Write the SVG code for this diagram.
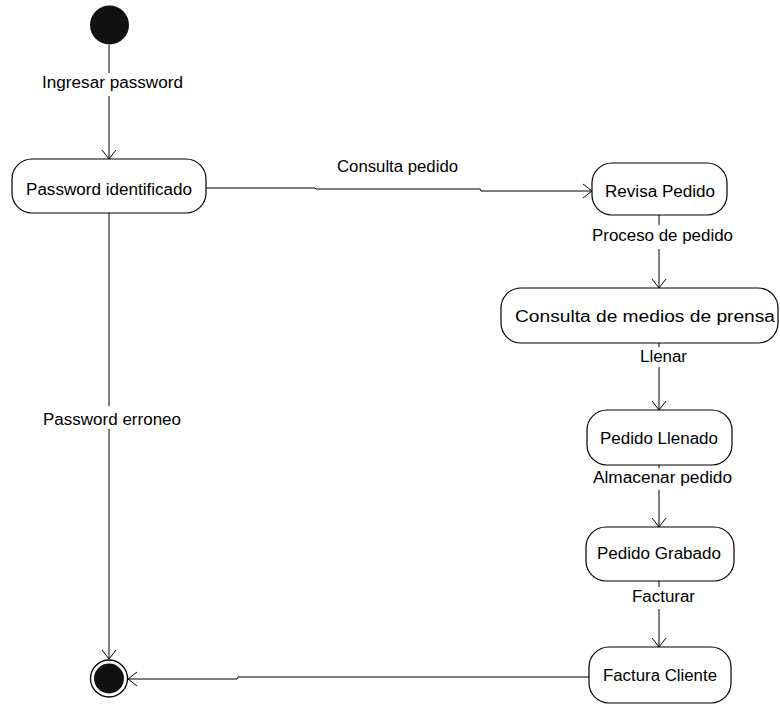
<svg xmlns="http://www.w3.org/2000/svg" width="780" height="706" viewBox="0 0 780 706">
  <style>
    .state { fill: #ffffff; stroke: #000000; stroke-width: 1.2; }
    .edge { fill: none; stroke: #000000; stroke-width: 1; }
    .lbl-bg { fill: #ffffff; stroke: none; }
    text { font-family: "Liberation Sans", Arial, sans-serif; font-size: 16px; fill: #000000; }
    .c { text-anchor: middle; }
  </style>
  <defs>
    <marker id="open" markerUnits="userSpaceOnUse" markerWidth="20" markerHeight="20" viewBox="-10 -10 20 20" refX="0" refY="0" orient="auto">
      <path d="M-9,-7 L0,0 L-9,7" fill="none" stroke="#000000" stroke-width="1"/>
    </marker>
  </defs>

  <!-- transitions -->
  <g id="connectors">
    <line class="edge" x1="109" y1="45" x2="109" y2="159" marker-end="url(#open)"/>
    <polyline class="edge" points="206,188 315,188 316,189 480,189 481,191 592,191" marker-end="url(#open)"/>
    <line class="edge" x1="659" y1="215" x2="659" y2="288" marker-end="url(#open)"/>
    <line class="edge" x1="659" y1="343" x2="659" y2="410" marker-end="url(#open)"/>
    <line class="edge" x1="659" y1="465" x2="659" y2="527" marker-end="url(#open)"/>
    <line class="edge" x1="659" y1="581" x2="659" y2="647" marker-end="url(#open)"/>
    <line class="edge" x1="109" y1="213" x2="109" y2="659" marker-end="url(#open)"/>
    <polyline class="edge" points="589,677 238,677 237,679 128,679" marker-end="url(#open)"/>

    <!-- label backgrounds break the lines they sit on -->
    <rect class="lbl-bg" x="40" y="73" width="146" height="23"/>
    <rect class="lbl-bg" x="590" y="225" width="146" height="24"/>
    <rect class="lbl-bg" x="637" y="347" width="54" height="20"/>
    <rect class="lbl-bg" x="590" y="468" width="146" height="22"/>
    <rect class="lbl-bg" x="629" y="587" width="70" height="22"/>
    <rect class="lbl-bg" x="40" y="406" width="144" height="23"/>

    <text x="112.5" y="88" class="c" textLength="141" lengthAdjust="spacingAndGlyphs">Ingresar password</text>
    <text x="397.5" y="172" class="c" textLength="121" lengthAdjust="spacingAndGlyphs">Consulta pedido</text>
    <text x="662.5" y="241" class="c" textLength="141" lengthAdjust="spacingAndGlyphs">Proceso de pedido</text>
    <text x="663.5" y="362" class="c" textLength="47" lengthAdjust="spacingAndGlyphs">Llenar</text>
    <text x="662.5" y="483" class="c" textLength="139" lengthAdjust="spacingAndGlyphs">Almacenar pedido</text>
    <text x="663.5" y="602" class="c" textLength="63" lengthAdjust="spacingAndGlyphs">Facturar</text>
    <text x="112" y="425" class="c" textLength="138" lengthAdjust="spacingAndGlyphs">Password erroneo</text>
  </g>

  <g id="start">
    <circle cx="109.5" cy="25" r="19.5" fill="#111111"/>
  </g>

  <g id="password-identificado">
    <rect class="state" x="12" y="159" width="194" height="54" rx="20" ry="20"/>
    <text x="109" y="195" class="c" textLength="166" lengthAdjust="spacingAndGlyphs">Password identificado</text>
  </g>

  <g id="revisa-pedido">
    <rect class="state" x="592" y="163" width="135" height="52" rx="20" ry="20"/>
    <text x="660" y="197" class="c" textLength="110" lengthAdjust="spacingAndGlyphs">Revisa Pedido</text>
  </g>

  <g id="consulta-medios">
    <rect class="state" x="501" y="288" width="277" height="55" rx="20" ry="20"/>
    <text x="645" y="322" class="c" textLength="260" lengthAdjust="spacingAndGlyphs">Consulta de medios de prensa</text>
  </g>

  <g id="pedido-llenado">
    <rect class="state" x="587" y="410" width="145" height="55" rx="20" ry="20"/>
    <text x="659" y="444" class="c" textLength="118" lengthAdjust="spacingAndGlyphs">Pedido Llenado</text>
  </g>

  <g id="pedido-grabado">
    <rect class="state" x="586" y="527" width="148" height="54" rx="20" ry="20"/>
    <text x="659" y="559" class="c" textLength="124" lengthAdjust="spacingAndGlyphs">Pedido Grabado</text>
  </g>

  <g id="factura-cliente">
    <rect class="state" x="589" y="647" width="142" height="56" rx="20" ry="20"/>
    <text x="660" y="681" class="c" textLength="114" lengthAdjust="spacingAndGlyphs">Factura Cliente</text>
  </g>

  <g id="end">
    <circle cx="109" cy="678.5" r="18.5" fill="#ffffff" stroke="#000000" stroke-width="1.3"/>
    <circle cx="109" cy="678.5" r="15" fill="#111111"/>
  </g>
</svg>
